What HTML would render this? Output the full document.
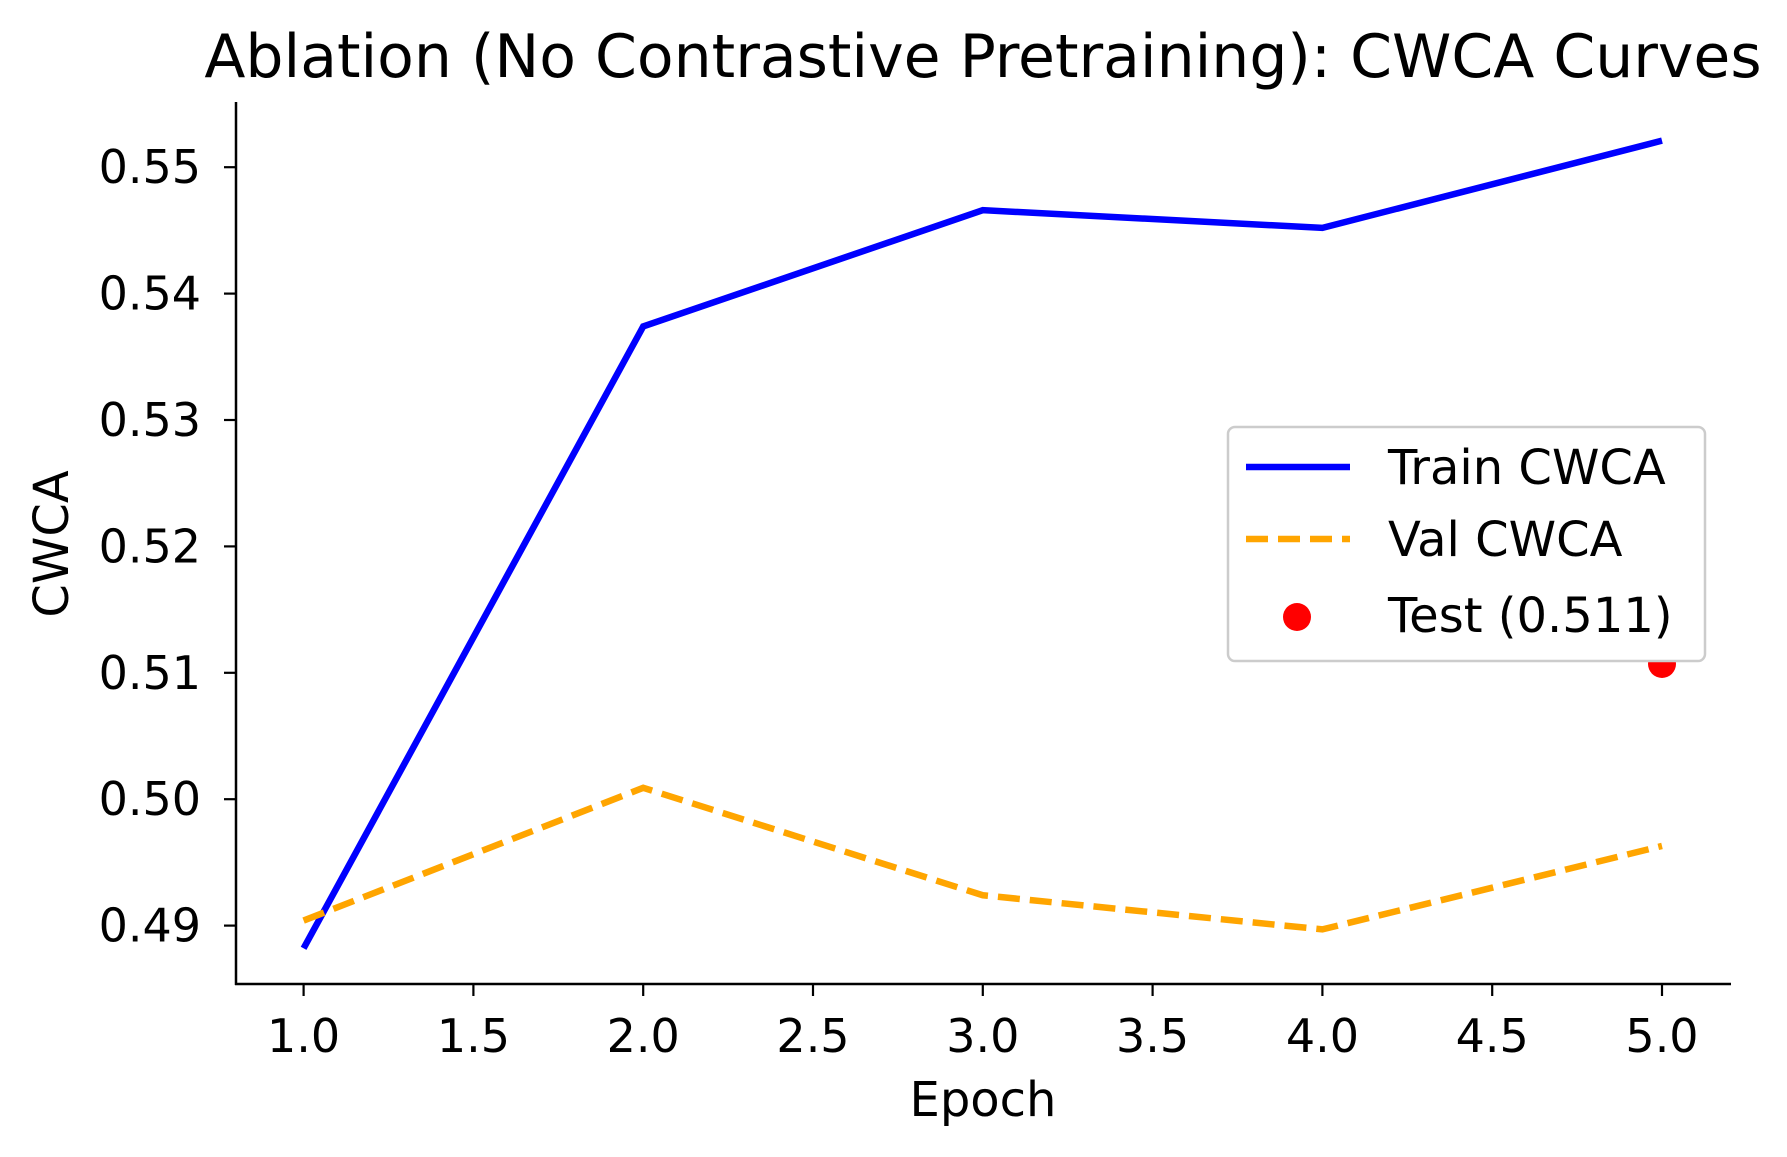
<!DOCTYPE html>
<html><head><meta charset="utf-8"><style>
body{margin:0;background:#fff}
svg text{font-family:"DejaVu Sans","Liberation Sans",sans-serif;fill:#000}
</style></head><body>
<svg id="chart" width="1787" height="1152" xmlns="http://www.w3.org/2000/svg">
<rect width="1787" height="1152" fill="#fff"/>
<text x="983" y="77" font-size="60" text-anchor="middle">Ablation (No Contrastive Pretraining): CWCA Curves</text>
<g id="axes"></g>
<g id="series"></g>
<text x="983" y="1116" font-size="48" text-anchor="middle">Epoch</text>
<text x="0" y="0" font-size="48" text-anchor="middle" transform="translate(68,544) rotate(-90)">CWCA</text>
<g>
<rect x="1228" y="427" width="477" height="234" rx="7" fill="#fff" stroke="#ccc" stroke-width="2.5"/>
<line x1="1246" y1="467" x2="1350" y2="467" stroke="#0000ff" stroke-width="6.5"/>
<text x="1388" y="484" font-size="48">Train CWCA</text>
<line x1="1246" y1="539" x2="1350" y2="539" stroke="#ffa500" stroke-width="6.5" stroke-dasharray="22,10"/>
<text x="1388" y="556" font-size="48">Val CWCA</text>
<circle cx="1297" cy="617" r="14" fill="#ff0000"/>
<text x="1388" y="632" font-size="48">Test (0.511)</text>
</g>
</svg>
<script>
const epochs=[1,2,3,4,5];
const trainCWCA=[0.4882,0.5374,0.5466,0.5452,0.5521];
const valCWCA=[0.4904,0.5009,0.4924,0.4897,0.4963];
const testEpoch=[5];
const testCWCA=[0.5107];
const xTicks=[1.0,1.5,2.0,2.5,3.0,3.5,4.0,4.5,5.0];
const yTicks=[0.49,0.50,0.51,0.52,0.53,0.54,0.55];

const NS="http://www.w3.org/2000/svg";
const X=v=>303.6+(v-1)*(1662-303.6)/4;
const Y=v=>925.6-(v-0.49)*12640;
function mk(t,a,p){const e=document.createElementNS(NS,t);for(const k in a)e.setAttribute(k,a[k]);p.appendChild(e);return e;}
const ax=document.getElementById('axes'),se=document.getElementById('series');
let l=mk('line',{x1:236,y1:102,x2:236,y2:985,stroke:'#000','stroke-width':2.5},ax);


l=mk('line',{x1:235,y1:984,x2:1731,y2:984,stroke:'#000','stroke-width':2.5},ax);


xTicks.forEach(v=>{
 mk('line',{x1:X(v),y1:984,x2:X(v),y2:996,stroke:'#000','stroke-width':2.2},ax);
 const t=mk('text',{x:X(v),y:1052,'font-size':46,'text-anchor':'middle'},ax);t.textContent=v.toFixed(1);
 
 
});
yTicks.forEach(v=>{
 mk('line',{x1:224,y1:Y(v),x2:236,y2:Y(v),stroke:'#000','stroke-width':2.2},ax);
 const t=mk('text',{x:201,y:Y(v)+16,'font-size':46,'text-anchor':'end'},ax);t.textContent=v.toFixed(2);
 
 
});
let p=mk('polyline',{points:epochs.map((e,i)=>X(e)+','+Y(trainCWCA[i])).join(' '),fill:'none',stroke:'#0000ff','stroke-width':6.5},se);


p=mk('polyline',{points:epochs.map((e,i)=>X(e)+','+Y(valCWCA[i])).join(' '),fill:'none',stroke:'#ffa500','stroke-width':6.5,'stroke-dasharray':'22,10'},se);


testEpoch.forEach((e,i)=>{
 const c=mk('circle',{cx:X(e),cy:Y(testCWCA[i]),r:14,fill:'#ff0000'},se);
 
 
});
</script>
</body></html>
